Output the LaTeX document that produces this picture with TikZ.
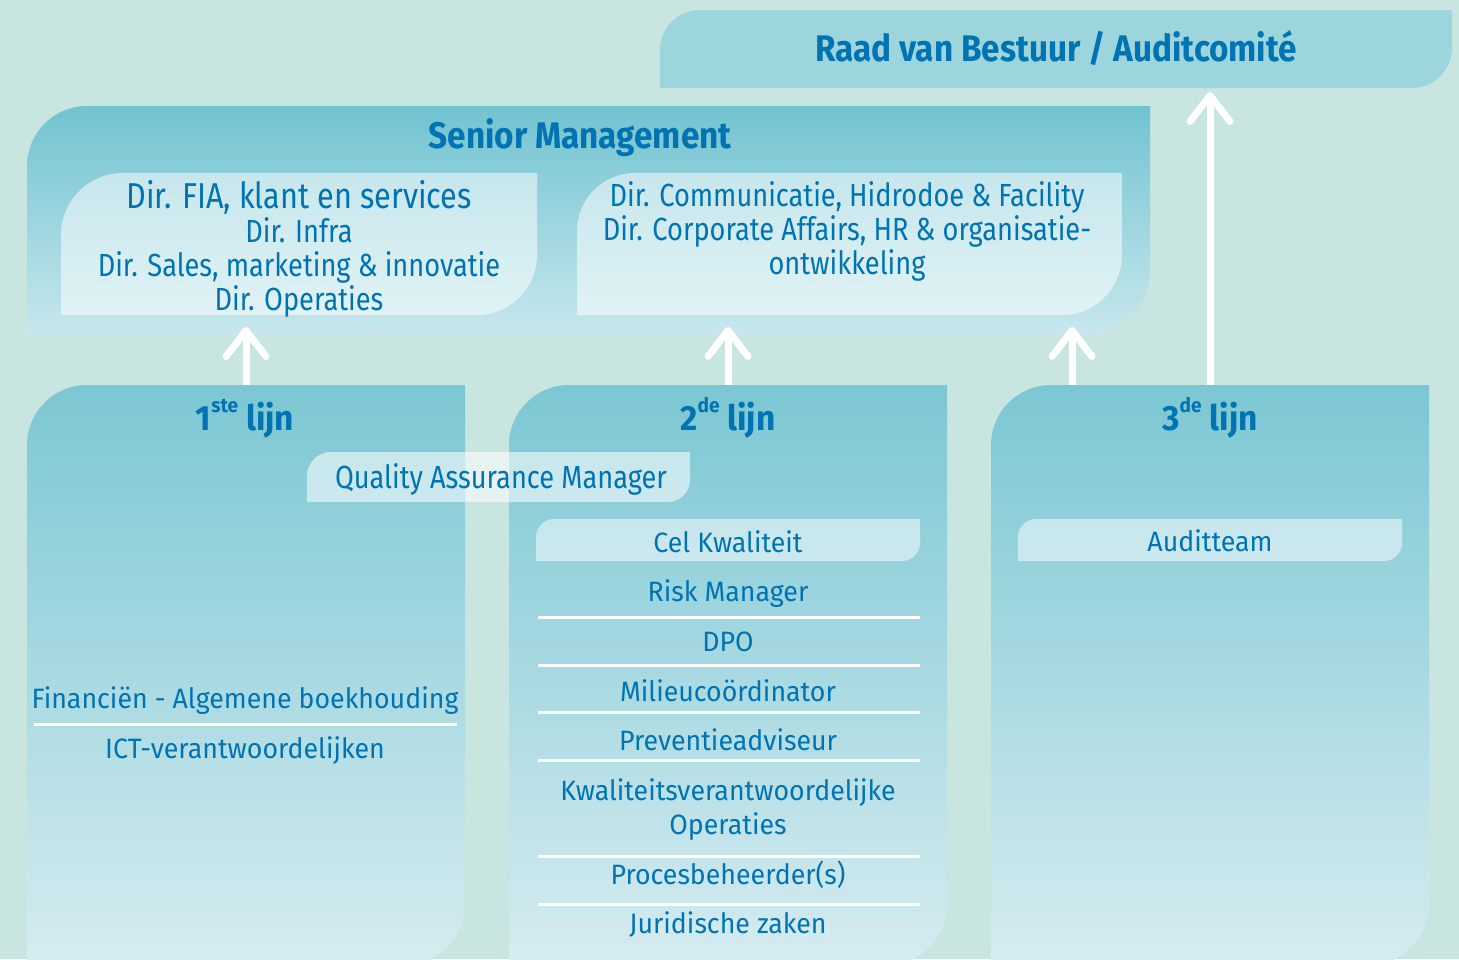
\documentclass[tikz,border=0pt]{standalone}
\usepackage{fontspec}
\setmainfont{Fira Sans}[FakeStretch=0.955]
\newfontfamily\cond[FakeStretch=0.85]{Fira Sans}
\newfontfamily\condb[FakeStretch=0.9]{Fira Sans}
\usetikzlibrary{arrows.meta,calc,fit}
\definecolor{bg}{RGB}{200,229,224}
\definecolor{raadc}{RGB}{157,213,221}
\definecolor{smtop}{RGB}{113,195,208}
\definecolor{smbot}{RGB}{200,231,237}
\definecolor{intop}{RGB}{198,231,236}
\definecolor{inbot}{RGB}{225,242,245}
\definecolor{ltop}{RGB}{123,199,211}
\definecolor{lmid}{RGB}{162,215,224}
\definecolor{lbot}{RGB}{214,236,240}
\definecolor{tb}{RGB}{0,115,179}
\newcommand\shapetlbr[4]{%
  \path[#1] (#2.south west) -- ($(#2.north west)+(0,#3)$)
    .. controls +(0,-0.552*#3) and +(-0.552*#3,0) .. ($(#2.north west)+(#3,0)$)
    -- (#2.north east) -- ($(#2.south east)+(0,-#4)$)
    .. controls +(0,0.552*#4) and +(0.552*#4,0) .. ($(#2.south east)+(-#4,0)$)
    -- cycle;}
\newcommand\supx[1]{\raisebox{0.5em}{\fontsize{10}{10}\selectfont #1}}
\begin{document}
\begin{tikzpicture}[x=0.5pt,y=-0.5pt,
  every node/.style={inner sep=0pt,outer sep=0pt,text=tb},
  frame/.style={fit={#1},inner sep=0pt,outer sep=0pt},
  item/.style={font=\fontsize{14}{17}\selectfont,anchor=base,align=center},
  dirtext/.style={font=\cond\fontsize{16}{17}\selectfont,anchor=base},
  head/.style={font=\condb\bfseries\fontsize{18.5}{20}\selectfont,anchor=base},
  linehead/.style={font=\bfseries\fontsize{17.5}{20}\selectfont,anchor=base},
  sep/.style={white,line width=1.5pt},
  arr/.style={white,line width=3.5pt,-{Straight Barb[length=13pt,width=20pt,round]}}]
\fill[bg] (0,0) rectangle (1459,959);
\useasboundingbox (0,0) rectangle (1459,959);
\clip (0,0) rectangle (1459,959);
% frames
\node[frame={(660,10) (1452,88)}] (raad) {};
\node[frame={(27,106) (1150,335)}] (sm) {};
\node[frame={(61,173) (537,315)}] (smL) {};
\node[frame={(577,173) (1122,315)}] (smR) {};
\node[frame={(27,385) (465,966)}] (l1) {};
\node[frame={(509,385) (947,966)}] (l2) {};
\node[frame={(991,385) (1429,966)}] (l3) {};
\node[frame={(307,452) (690,502)}] (qa) {};
\node[frame={(536,519) (920,561)}] (cel) {};
\node[frame={(1018,519) (1402,561)}] (aud) {};
% shapes
\shapetlbr{fill=raadc}{raad}{40}{40}
\shapetlbr{top color=smtop,bottom color=smbot}{sm}{60}{65}
\shapetlbr{top color=intop,bottom color=inbot}{smL}{62}{60}
\shapetlbr{top color=intop,bottom color=inbot}{smR}{58}{60}
\shapetlbr{top color=ltop,middle color=lmid,bottom color=lbot}{l1}{60}{62}
\shapetlbr{top color=ltop,middle color=lmid,bottom color=lbot}{l2}{60}{62}
\shapetlbr{top color=ltop,middle color=lmid,bottom color=lbot}{l3}{60}{62}
\shapetlbr{fill=white,fill opacity=0.55}{qa}{24}{22}
\shapetlbr{fill=white,fill opacity=0.5}{cel}{18}{18}
\shapetlbr{fill=white,fill opacity=0.5}{aud}{18}{18}
% separators
\foreach \yy in {617,665,712,760,856,904} \draw[sep] (538,\yy) -- (920,\yy);
\draw[sep] (34,724) -- (457,724);
% arrows
\coordinate (a3) at (1072,385);
\draw[arr] (l1.north) -- ($(l1.north |- sm.south)+(0,-8)$);
\draw[arr] (l2.north) -- ($(l2.north |- sm.south)+(0,-8)$);
\draw[arr] (a3) -- ($(a3 |- sm.south)+(0,-8)$);
\draw[arr] (l3.north) -- ($(l3.north |- raad.south)+(0,4)$);
% texts
\node[head] (raadt) at (1056,61) {Raad van Bestuur / Auditcomité};
\node[head] (smt) at (580,148) {Senior Management};
\node[dirtext,font=\cond\fontsize{18}{17}\selectfont] (d1) at (299,208) {Dir. FIA, klant en services};
\node[dirtext] (d2) at (299,242) {Dir. Infra};
\node[dirtext] (d3) at (299,276) {Dir. Sales, marketing \& innovatie};
\node[dirtext] (d4) at (299,310) {Dir. Operaties};
\node[dirtext] (d5) at (847,206) {Dir. Communicatie, Hidrodoe \& Facility};
\node[dirtext] (d6) at (847,240) {Dir. Corporate Affairs, HR \& organisatie-};
\node[dirtext] (d7) at (847,274) {ontwikkeling};
\node[linehead] (h1) at (245,430) {1\supx{ste} lijn};
\node[linehead] (h2) at (728,430) {2\supx{de} lijn};
\node[linehead] (h3) at (1210,430) {3\supx{de} lijn};
\node[dirtext] (qat) at (501,488) {Quality Assurance Manager};
\node[item] (celt) at (728,552) {Cel Kwaliteit};
\node[item] (audt) at (1210,551) {Auditteam};
\node[item] (risk) at (728,601) {Risk Manager};
\node[item] (dpo) at (728,651) {DPO};
\node[item] (mil) at (728,701) {Milieucoördinator};
\node[item] (prev) at (728,750) {Preventieadviseur};
\node[item] (kwal) at (728,834) {Kwaliteitsverantwoordelijke\\Operaties};
\node[item] (proc) at (728,884) {Procesbeheerder(s)};
\node[item] (jur) at (728,933) {Juridische zaken};
\node[item] (fin) at (245,708) {Financiën - Algemene boekhouding};
\node[item] (ict) at (245,758) {ICT-verantwoordelijken};
\end{tikzpicture}
\end{document}
